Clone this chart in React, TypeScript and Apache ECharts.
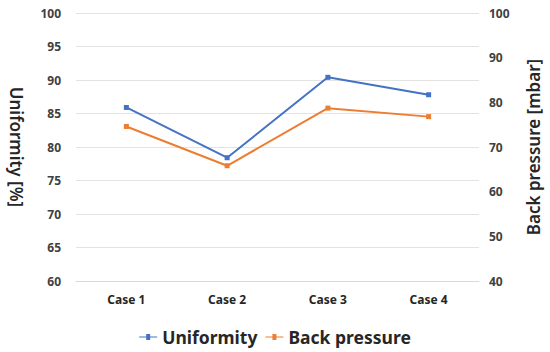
import React, { useEffect, useRef } from "react";
import * as echarts from "echarts";

const categories = ["Case 1", "Case 2", "Case 3", "Case 4"];
const uniformity = [85.9, 78.4, 90.4, 87.8];
const backPressure = [74.6, 65.8, 78.7, 76.8];

const FONT = "'Noto Sans', 'Open Sans', sans-serif";
const ICON = "path://M0,2.5L7,2.5L7,0L11,0L11,2.5L18,2.5L18,3.5L11,3.5L11,6L7,6L7,3.5L0,3.5Z";

export default function App() {
  const ref = useRef<HTMLDivElement>(null);
  useEffect(() => {
    if (!ref.current) return;
    const chart = echarts.init(ref.current, undefined, { renderer: "svg" });
    chart.setOption({
      animation: false,
      textStyle: { fontFamily: FONT },
      grid: { left: 65, right: 67, top: 13, bottom: 71, containLabel: false },
      legend: {
        bottom: 1,
        left: "center",
        itemWidth: 18,
        itemHeight: 6,
        itemGap: 8,
        textStyle: { fontFamily: FONT, fontSize: 17.5, fontWeight: "bold", color: "#262626" },
        data: [
          { name: "Uniformity", icon: ICON },
          { name: "Back pressure", icon: ICON },
        ],
      },
      xAxis: {
        type: "category",
        data: categories,
        boundaryGap: true,
        axisLine: { show: true, lineStyle: { color: "#d9d9d9" } },
        axisTick: { show: false },
        axisLabel: { fontFamily: FONT, fontSize: 12, fontWeight: "bold", color: "#262626", margin: 12 },
      },
      yAxis: [
        {
          type: "value",
          min: 60,
          max: 100,
          interval: 5,
          name: "Uniformity [%]",
          nameLocation: "middle",
          nameRotate: -90,
          nameGap: 51,
          nameTextStyle: { fontFamily: FONT, fontSize: 17, fontWeight: 600, color: "#262626" },
          axisLine: { show: false },
          axisTick: { show: false },
          axisLabel: { fontFamily: FONT, fontSize: 12, fontWeight: "bold", color: "#404040", margin: 15 },
          splitLine: { show: true, lineStyle: { color: "#e3e3e3", width: 1 } },
        },
        {
          type: "value",
          min: 40,
          max: 100,
          interval: 10,
          name: "Back pressure [mbar]",
          nameLocation: "middle",
          nameRotate: 90,
          nameGap: 46,
          nameTextStyle: { fontFamily: FONT, fontSize: 17, fontWeight: 600, color: "#262626" },
          axisLine: { show: false },
          axisTick: { show: false },
          axisLabel: { fontFamily: FONT, fontSize: 12, fontWeight: "bold", color: "#404040", margin: 10 },
          splitLine: { show: false },
        },
      ],
      series: [
        {
          name: "Uniformity",
          type: "line",
          yAxisIndex: 0,
          data: uniformity,
          symbol: "rect",
          symbolSize: 5,
          itemStyle: { color: "#4472C4" },
          lineStyle: { color: "#4472C4", width: 2 },
        },
        {
          name: "Back pressure",
          type: "line",
          yAxisIndex: 1,
          data: backPressure,
          symbol: "rect",
          symbolSize: 5,
          itemStyle: { color: "#ED7D31" },
          lineStyle: { color: "#ED7D31", width: 2 },
        },
      ],
    });
    return () => chart.dispose();
  }, []);
  return <div ref={ref} style={{ width: 550, height: 352, position: "absolute", left: 0, top: 0 }} />;
}
